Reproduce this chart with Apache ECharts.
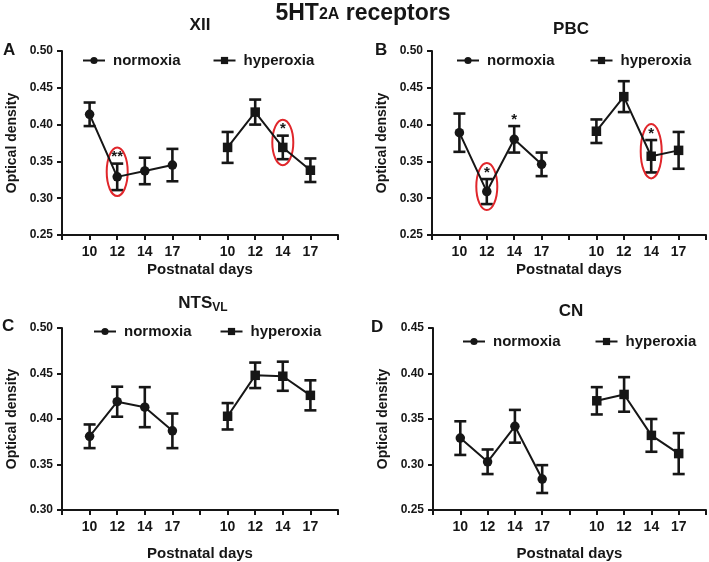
<!DOCTYPE html>
<html><head><meta charset="utf-8">
<script src="https://cdn.jsdelivr.net/npm/echarts@6/dist/echarts.min.js"></script>
<style>html,body{margin:0;padding:0;background:#fff}#c{width:709px;height:562px}</style>
</head><body><div id="c"></div>
<script>
// ---------- data ----------
const days = ['10', '12', '14', '17'];
const xTickLabels = ['', '10', '12', '14', '17', '', '10', '12', '14', '17', ''];
const normPos = [1, 2, 3, 4];
const hypPos = [6, 7, 8, 9];
const seriesNames = ['normoxia', 'hyperoxia'];
const panelTitles = ['XII', 'PBC', 'NTS_VL', 'CN'];
const panelLetters = ['A', 'B', 'C', 'D'];

// Panel A: XII
const A_norm = [0.414, 0.329, 0.337, 0.345];
const A_normErr = [0.016, 0.018, 0.018, 0.022];
const A_hyp = [0.369, 0.417, 0.369, 0.338];
const A_hypErr = [0.021, 0.017, 0.016, 0.016];
const A_normStars = ['', '**', '', ''];
const A_hypStars = ['', '', '*', ''];
const A_normCircled = [0, 1, 0, 0];
const A_hypCircled = [0, 0, 1, 0];

// Panel B: PBC
const B_norm = [0.389, 0.309, 0.380, 0.346];
const B_normErr = [0.026, 0.017, 0.018, 0.016];
const B_hyp = [0.391, 0.438, 0.357, 0.365];
const B_hypErr = [0.016, 0.021, 0.022, 0.025];
const B_normStars = ['', '*', '*', ''];
const B_hypStars = ['', '', '*', ''];
const B_normCircled = [0, 1, 0, 0];
const B_hypCircled = [0, 0, 1, 0];

// Panel C: NTS_VL
const C_norm = [0.381, 0.419, 0.413, 0.387];
const C_normErr = [0.013, 0.0165, 0.022, 0.019];
const C_hyp = [0.403, 0.448, 0.447, 0.426];
const C_hypErr = [0.0145, 0.014, 0.016, 0.0165];

// Panel D: CN
const D_norm = [0.329, 0.303, 0.342, 0.284];
const D_normErr = [0.0185, 0.0135, 0.018, 0.0153];
const D_hyp = [0.370, 0.377, 0.332, 0.312];
const D_hypErr = [0.015, 0.019, 0.018, 0.0225];
const none4 = ['', '', '', ''];
const zero4 = [0, 0, 0, 0];

// y ranges
const yMins = [0.25, 0.25, 0.30, 0.25];
const yMaxs = [0.50, 0.50, 0.50, 0.45];

// ---------- styling / layout ----------
const INK = '#161616';
const RED = '#e0262b';
const FONT = 'Liberation Sans, Arial, Helvetica, sans-serif';
const grids = [
  {left: 62, top: 51, width: 276, height: 184},
  {left: 432, top: 51, width: 275, height: 184},
  {left: 62, top: 328, width: 276, height: 183},
  {left: 433, top: 328, width: 275, height: 183}
];
const xNameGaps = [27, 27, 36, 36];

const panelData = [
  [A_norm, A_normErr, A_hyp, A_hypErr, A_normStars, A_hypStars, A_normCircled, A_hypCircled],
  [B_norm, B_normErr, B_hyp, B_hypErr, B_normStars, B_hypStars, B_normCircled, B_hypCircled],
  [C_norm, C_normErr, C_hyp, C_hypErr, none4, none4, zero4, zero4],
  [D_norm, D_normErr, D_hyp, D_hypErr, none4, none4, zero4, zero4]
];

function errorSeries(idx, xs, means, errs, stars, circled) {
  return {
    type: 'custom', xAxisIndex: idx, yAxisIndex: idx, z: 3, silent: true, animation: false,
    data: xs.map((x, i) => [x, means[i] - errs[i], means[i] + errs[i]]),
    renderItem(params, api) {
      const i = params.dataIndex;
      const x = api.value(0);
      const lo = api.coord([x, api.value(1)]);
      const hi = api.coord([x, api.value(2)]);
      const cap = 6;
      const st = {stroke: INK, lineWidth: 2.6};
      const children = [
        {type: 'line', shape: {x1: lo[0], y1: lo[1], x2: hi[0], y2: hi[1]}, style: st},
        {type: 'line', shape: {x1: lo[0] - cap, y1: lo[1], x2: lo[0] + cap, y2: lo[1]}, style: st},
        {type: 'line', shape: {x1: hi[0] - cap, y1: hi[1], x2: hi[0] + cap, y2: hi[1]}, style: st}
      ];
      if (stars[i]) {
        children.push({type: 'text', x: hi[0], y: hi[1] + 1,
          style: {text: stars[i], font: 'bold 15px ' + FONT, fill: INK, align: 'center', verticalAlign: 'bottom'}});
      }
      if (circled[i]) {
        const top = hi[1] - 16, bot = lo[1] + 6;
        const cy = (top + bot) / 2, ry = (bot - top) / 2, rx = 10.5, cx = hi[0];
        children.push({type: 'path',
          shape: {pathData: `M ${cx - rx} ${cy} A ${rx} ${ry} 0 1 0 ${cx + rx} ${cy} A ${rx} ${ry} 0 1 0 ${cx - rx} ${cy} Z`},
          style: {fill: 'none', stroke: RED, lineWidth: 2}});
      }
      return {type: 'group', children};
    }
  };
}

const series = [];
panelData.forEach((p, i) => {
  const [nm, ne, hm, he, ns, hs, nc, hc] = p;
  series.push(errorSeries(i, normPos, nm, ne, ns, nc));
  series.push(errorSeries(i, hypPos, hm, he, hs, hc));
  series.push({type: 'line', name: seriesNames[0], xAxisIndex: i, yAxisIndex: i, z: 4, animation: false,
    data: normPos.map((x, k) => [x, nm[k]]), symbol: 'circle', symbolSize: 9.5,
    lineStyle: {color: INK, width: 2}, itemStyle: {color: INK}});
  series.push({type: 'line', name: seriesNames[1], xAxisIndex: i, yAxisIndex: i, z: 4, animation: false,
    data: hypPos.map((x, k) => [x, hm[k]]), symbol: 'rect', symbolSize: 9.5,
    lineStyle: {color: INK, width: 2}, itemStyle: {color: INK}});
});

const legendPos = [
  {left: 82, top: 53, itemGap: 32},
  {left: 456, top: 53, itemGap: 35},
  {left: 93, top: 324, itemGap: 28},
  {left: 462, top: 334, itemGap: 34}
];

const titleText = [
  {text: '{a|5HT}{b|2A}{a| receptors}', left: 363, top: 0, rich: {
    a: {fontSize: 23, fontWeight: 'bold', lineHeight: 25, verticalAlign: 'bottom', color: INK, fontFamily: FONT},
    b: {fontSize: 16, fontWeight: 'bold', lineHeight: 20, verticalAlign: 'bottom', padding: [0, 0, 2, 0], color: INK, fontFamily: FONT}}},
  {text: '{a|XII}', left: 200, top: 17},
  {text: '{a|PBC}', left: 571, top: 21},
  {text: '{a|NTS}{s|VL}', left: 203, top: 295},
  {text: '{a|CN}', left: 571, top: 303}
];
const panelRich = {a: {fontSize: 17, fontWeight: 'bold', lineHeight: 19, color: INK, fontFamily: FONT, verticalAlign: 'top'},
  s: {fontSize: 12, fontWeight: 'bold', lineHeight: 12, padding: [11, 0, 0, 0], verticalAlign: 'bottom', color: INK, fontFamily: FONT}};
const letterPos = [{left: 3, top: 42}, {left: 375, top: 42}, {left: 2, top: 318}, {left: 371, top: 319}];

const title = titleText.map((t, k) => ({
  text: t.text, left: t.left, top: t.top, textAlign: 'center', padding: 0,
  textStyle: {rich: t.rich || panelRich}
})).concat(panelLetters.map((l, k) => ({
  text: l, left: letterPos[k].left, top: letterPos[k].top, padding: 0,
  textStyle: {fontSize: 17, fontWeight: 'bold', color: INK, fontFamily: FONT}
})));

const option = {
  animation: false,
  textStyle: {fontFamily: FONT},
  title,
  legend: legendPos.map(l => ({
    left: l.left, top: l.top, itemGap: l.itemGap, data: seriesNames, selectedMode: false,
    itemWidth: 22, itemHeight: 9, padding: 0,
    textStyle: {fontSize: 15, fontWeight: 'bold', color: INK, fontFamily: FONT, padding: [0, 0, 0, 3]}
  })),
  grid: grids,
  xAxis: grids.map((g, i) => ({
    gridIndex: i, type: 'value', min: 0, max: 10, interval: 1,
    axisLine: {lineStyle: {color: INK, width: 2}},
    axisTick: {length: 5, lineStyle: {color: INK, width: 2}},
    splitLine: {show: false},
    axisLabel: {formatter: v => xTickLabels[Math.round(v)] || '', fontSize: 14, fontWeight: 'bold', color: INK, margin: 10},
    name: 'Postnatal days', nameLocation: 'middle', nameGap: xNameGaps[i],
    nameTextStyle: {fontSize: 15, fontWeight: 'bold', color: INK}
  })),
  yAxis: grids.map((g, i) => ({
    gridIndex: i, type: 'value', min: yMins[i], max: yMaxs[i], interval: 0.05,
    axisLine: {show: true, lineStyle: {color: INK, width: 2}},
    axisTick: {show: true, length: 5, lineStyle: {color: INK, width: 2}},
    splitLine: {show: false},
    axisLabel: {formatter: v => v.toFixed(2), fontSize: 12, fontWeight: 'bold', color: INK, margin: 9},
    name: 'Optical density', nameLocation: 'middle', nameGap: 43,
    nameTextStyle: {fontSize: 14, fontWeight: 'bold', color: INK}
  })),
  series
};
const chart = echarts.init(document.getElementById('c'), null, {renderer: 'canvas'});
chart.setOption(option);
</script>
</body></html>
